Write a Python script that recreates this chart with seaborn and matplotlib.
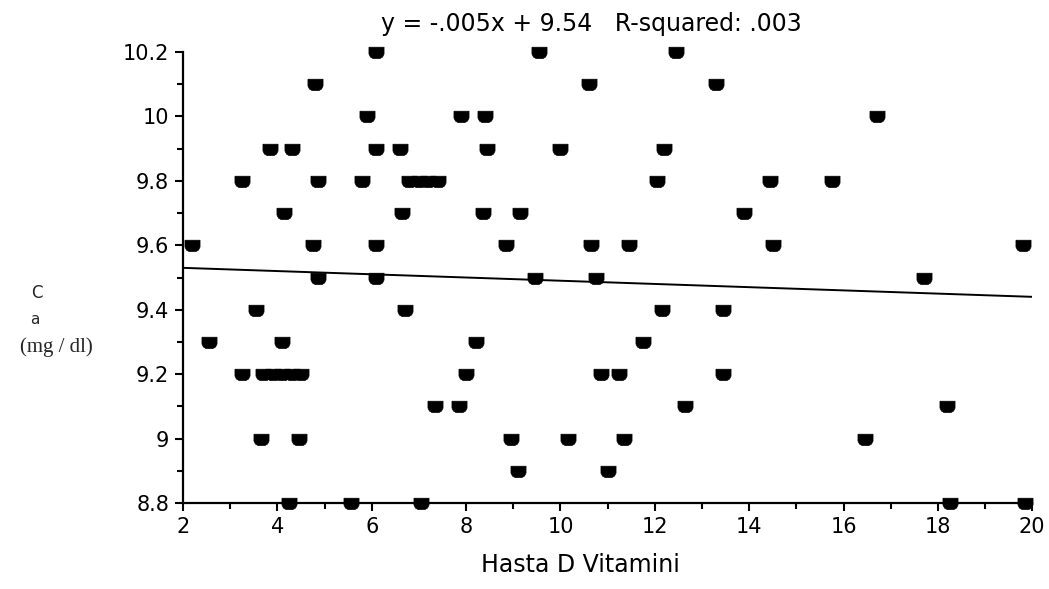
import numpy as np
import pandas as pd
import seaborn as sns
import matplotlib
matplotlib.use("Agg")
import matplotlib.pyplot as plt
from matplotlib.ticker import FixedLocator, FuncFormatter

# Vitamin D (x) and serum calcium (y) per patient
vit_d = [
    6.1, 9.55, 12.45,
    4.8, 10.6, 13.3,
    5.9, 7.9, 8.4, 16.7,
    3.85, 4.3, 6.1, 6.6, 8.45, 10.0, 12.2,
    3.25, 4.85, 5.8, 6.8, 7.0, 7.2, 7.4, 12.05, 14.45, 15.75,
    4.15, 6.65, 8.35, 9.15, 13.9,
    2.2, 4.75, 6.1, 8.85, 10.65, 11.45, 14.5, 19.8,
    4.85, 6.1, 9.45, 10.75, 17.7,
    3.55, 6.7, 12.15, 13.45,
    2.55, 4.1, 8.2, 11.75,
    3.25, 3.7, 3.9, 4.1, 4.3, 4.5, 8.0, 10.85, 11.25, 13.45,
    7.35, 7.85, 12.65, 18.2,
    3.65, 4.45, 8.95, 10.15, 11.35, 16.45,
    9.1, 11.0,
    4.25, 5.55, 7.05, 18.25, 19.85,
]
calcium = (
    [10.2] * 3 + [10.1] * 3 + [10.0] * 4 + [9.9] * 7 + [9.8] * 10
    + [9.7] * 5 + [9.6] * 8 + [9.5] * 5 + [9.4] * 4 + [9.3] * 4
    + [9.2] * 10 + [9.1] * 4 + [9.0] * 6 + [8.9] * 2 + [8.8] * 5
)

# Least-squares fit as reported in the header
slope = -0.005
intercept = 9.54
r_squared = ".003"

x_ticks = [2, 4, 6, 8, 10, 12, 14, 16, 18, 20]
y_ticks = [8.8, 9.0, 9.2, 9.4, 9.6, 9.8, 10.0, 10.2]

sns.set_style("ticks")
plt.rcParams["font.family"] = ["DejaVu Sans"]

fig = plt.figure(figsize=(10.49, 5.89), dpi=100)
ax = fig.add_axes([0.1745, 0.146, 0.8095, 0.7657])

points = pd.DataFrame({"vit_d": vit_d, "calcium": calcium})

# cup-shaped marker: flat top, rounded bottom
cup = [(-1.0, 0.7), (1.0, 0.7), (1.0, -0.2), (0.8, -0.6), (0.45, -0.8),
       (-0.45, -0.8), (-0.8, -0.6), (-1.0, -0.2), (-1.0, 0.7)]

sns.scatterplot(data=points, x="vit_d", y="calcium", ax=ax, marker=cup,
                s=118, color="black", edgecolor="black", linewidth=0.5,
                clip_on=False, zorder=3)

line_x = np.array([x_ticks[0], x_ticks[-1]], dtype=float)
line = pd.DataFrame({"x": line_x, "y": intercept + slope * line_x})
sns.lineplot(data=line, x="x", y="y", ax=ax, color="black", linewidth=1.4)

ax.set_xlim(2, 20)
ax.set_ylim(8.8, 10.2)

ax.xaxis.set_major_locator(FixedLocator(x_ticks))
ax.xaxis.set_minor_locator(FixedLocator(np.arange(3, 20, 2)))
ax.yaxis.set_major_locator(FixedLocator(y_ticks))
ax.yaxis.set_minor_locator(FixedLocator(np.arange(8.9, 10.2, 0.2)))
ax.yaxis.set_major_formatter(FuncFormatter(lambda v, p: f"{v:.1f}".rstrip("0").rstrip(".")))

ax.tick_params(axis="both", which="major", direction="out", length=6, width=1.5,
               labelsize=15, color="black", labelcolor="black", pad=4)
ax.tick_params(axis="both", which="minor", direction="out", length=4, width=1.5,
               color="black")

for side in ("top", "right"):
    ax.spines[side].set_visible(False)
for side in ("left", "bottom"):
    ax.spines[side].set_linewidth(1.6)
    ax.spines[side].set_color("black")

ax.set_xlabel("")
ax.set_ylabel("")

fig.text(0.564, 0.98, f"y = -.005x + 9.54   R-squared: {r_squared}",
         ha="center", va="top", fontsize=17, color="black")
fig.text(0.553, 0.04, "Hasta D Vitamini", ha="center", va="center",
         fontsize=17, color="black")

fig.text(0.035, 0.5025, "C", ha="center", va="center", fontsize=12)
fig.text(0.033, 0.457, "a", ha="center", va="center", fontsize=11)
fig.text(0.054, 0.411, "(mg / dl)", ha="center", va="center", fontsize=15,
         family=["Liberation Serif"])

fig.savefig("out.png", dpi=100, facecolor="white")
